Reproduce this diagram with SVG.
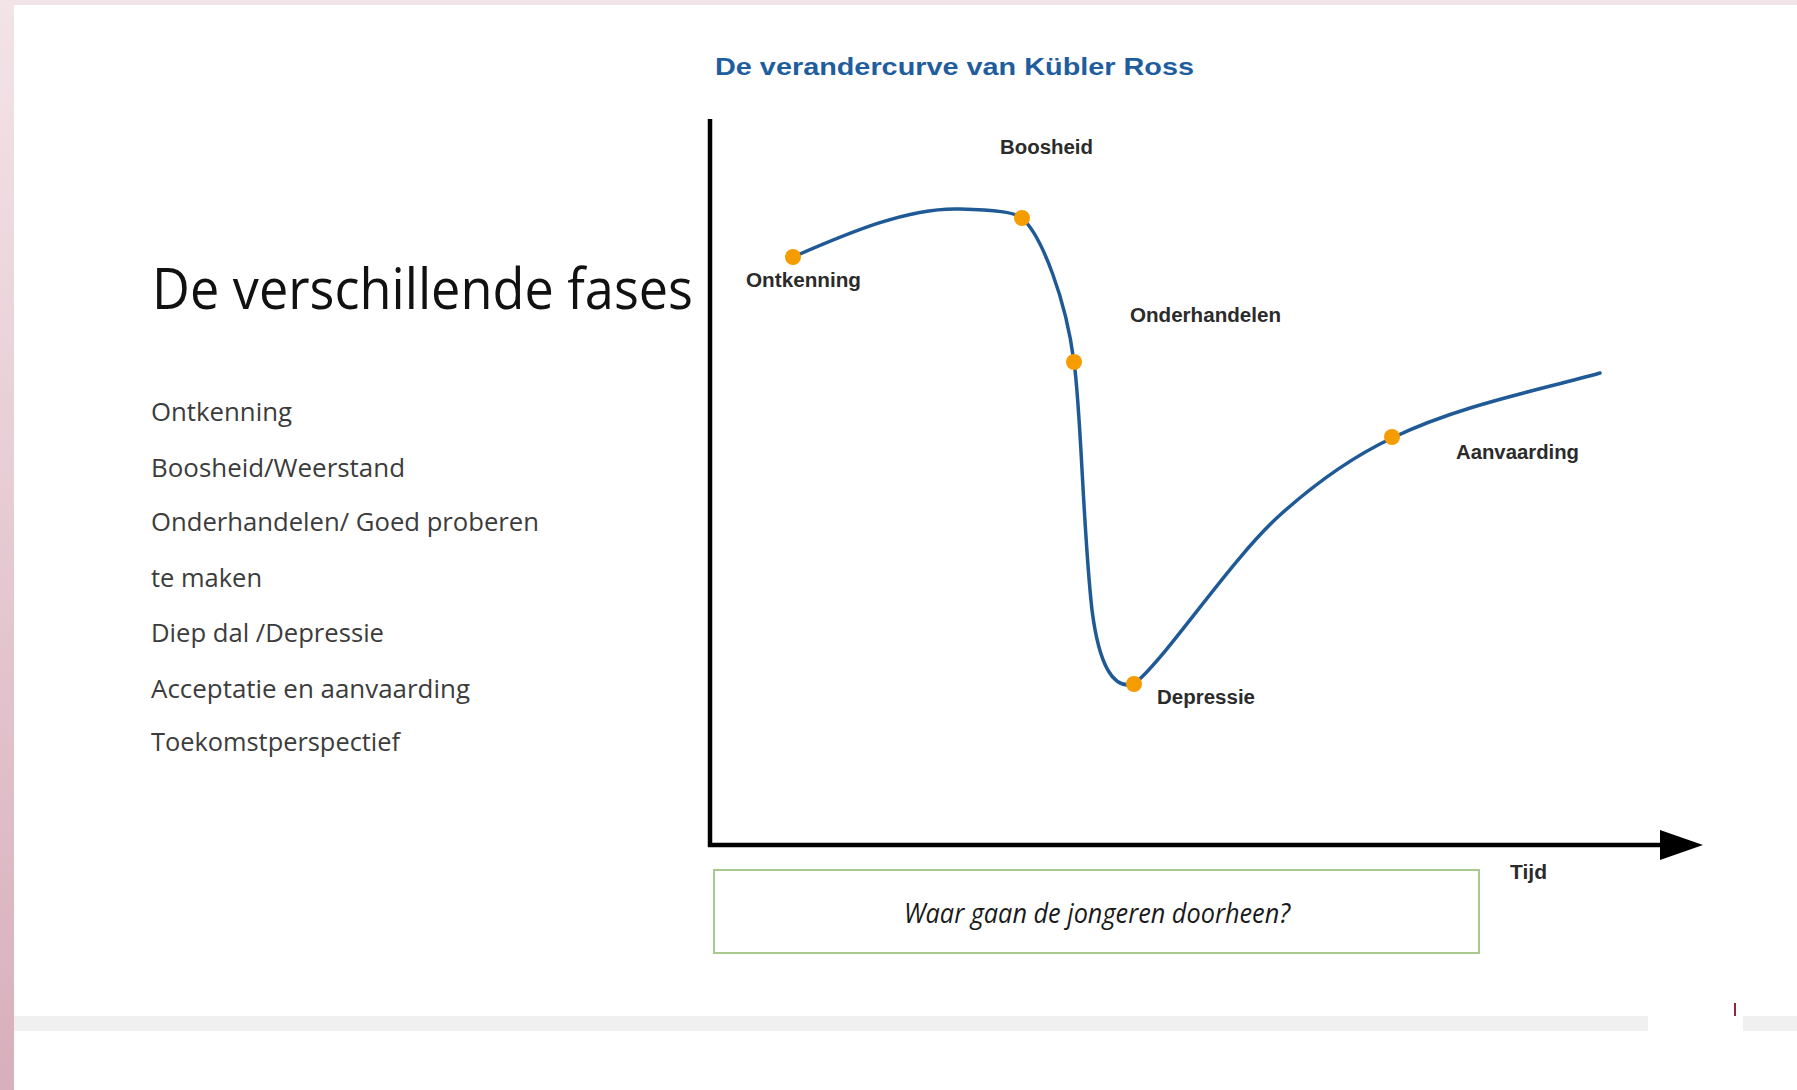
<svg xmlns="http://www.w3.org/2000/svg" width="1797" height="1090" viewBox="0 0 1797 1090">
  <defs>
    <linearGradient id="side" x1="0" y1="0" x2="0" y2="1">
      <stop offset="0" stop-color="#f3e4e8"/>
      <stop offset="1" stop-color="#d8afbc"/>
    </linearGradient>
    <style>
      .title { font-family: "Open Sans", "Liberation Sans", sans-serif; font-size: 57px; fill: #111; }
      .item { font-family: "Open Sans", "Liberation Sans", sans-serif; font-size: 25px; fill: #3c3c3c; }
      .ctitle { font-family: "Liberation Sans", Arial, sans-serif; font-size: 24px; font-weight: bold; fill: #1f5e9e; }
      .lbl { font-family: "Liberation Sans", Arial, sans-serif; font-size: 19.5px; font-weight: bold; fill: #2b2b2b; }
      .dot { fill: #f59c00; }
      .curve { fill: none; stroke: #1f5a96; stroke-width: 3.5; stroke-linecap: round; }
      .axis { fill: none; stroke: #000; stroke-width: 4.5; }
      .q { font-family: "Open Sans", "Liberation Sans", sans-serif; font-size: 27px; font-style: italic; fill: #1a1a1a; }
    </style>
  </defs>

  <rect x="0" y="0" width="1797" height="1090" fill="#ffffff"/>
  <rect x="0" y="0" width="1797" height="5" fill="#f1e3e7"/>
  <rect x="0" y="0" width="14" height="1090" fill="url(#side)"/>
  <rect x="14" y="1016" width="1634" height="15" fill="#f0f0f0"/>
  <rect x="1743" y="1016" width="54" height="15" fill="#f0f0f0"/>
  <rect x="1734" y="1003" width="2" height="13" fill="#8a2a3a"/>

  <g id="left-text">
    <text class="title" x="152" y="309" textLength="541" lengthAdjust="spacingAndGlyphs">De verschillende fases</text>
    <text class="item" x="151" y="421" textLength="141" lengthAdjust="spacingAndGlyphs">Ontkenning</text>
    <text class="item" x="151" y="477" textLength="254" lengthAdjust="spacingAndGlyphs">Boosheid/Weerstand</text>
    <text class="item" x="151" y="531" textLength="388" lengthAdjust="spacingAndGlyphs">Onderhandelen/ Goed proberen</text>
    <text class="item" x="151" y="587" textLength="111" lengthAdjust="spacingAndGlyphs">te maken</text>
    <text class="item" x="151" y="642" textLength="233" lengthAdjust="spacingAndGlyphs">Diep dal /Depressie</text>
    <text class="item" x="151" y="698" textLength="319" lengthAdjust="spacingAndGlyphs">Acceptatie en aanvaarding</text>
    <text class="item" x="151" y="751" textLength="249" lengthAdjust="spacingAndGlyphs">Toekomstperspectief</text>
  </g>

  <text class="ctitle" x="715" y="75" textLength="479" lengthAdjust="spacingAndGlyphs">De verandercurve van Kübler Ross</text>

  <g id="connectors">
    <line class="axis" x1="710" y1="119" x2="710" y2="847"/>
    <line class="axis" x1="708" y1="845" x2="1665" y2="845"/>
    <polygon points="1660,830 1703,845 1660,860" fill="#000"/>
    <path class="curve" d="M 793 257 C 850 232, 910 207, 960 209 C 995 210, 1014 212, 1022 218 C 1042 236, 1066 300, 1074 362 C 1081 410, 1083 530, 1092 610 C 1099 665, 1113 690, 1134 684 C 1165 660, 1230 560, 1280 515 C 1310 488, 1350 458, 1392 438 C 1460 405, 1540 390, 1600 373"/>
  </g>

  <g id="node-ontkenning">
    <circle class="dot" cx="793" cy="257" r="8"/>
    <text class="lbl" x="746" y="287" textLength="115" lengthAdjust="spacingAndGlyphs">Ontkenning</text>
  </g>
  <g id="node-boosheid">
    <circle class="dot" cx="1022" cy="218" r="8"/>
    <text class="lbl" x="1000" y="154" textLength="93" lengthAdjust="spacingAndGlyphs">Boosheid</text>
  </g>
  <g id="node-onderhandelen">
    <circle class="dot" cx="1074" cy="362" r="8"/>
    <text class="lbl" x="1130" y="322" textLength="151" lengthAdjust="spacingAndGlyphs">Onderhandelen</text>
  </g>
  <g id="node-depressie">
    <circle class="dot" cx="1134" cy="684" r="8"/>
    <text class="lbl" x="1157" y="704" textLength="98" lengthAdjust="spacingAndGlyphs">Depressie</text>
  </g>
  <g id="node-aanvaarding">
    <circle class="dot" cx="1392" cy="437" r="8"/>
    <text class="lbl" x="1456" y="459" textLength="123" lengthAdjust="spacingAndGlyphs">Aanvaarding</text>
  </g>
  <g id="node-tijd">
    <text class="lbl" x="1510" y="879" textLength="37" lengthAdjust="spacingAndGlyphs">Tijd</text>
  </g>

  <g id="node-question">
    <rect x="714" y="870" width="765" height="83" fill="#fff" stroke="#a9c98f" stroke-width="2"/>
    <text class="q" x="904" y="923" textLength="386" lengthAdjust="spacingAndGlyphs">Waar gaan de jongeren doorheen?</text>
  </g>
</svg>
